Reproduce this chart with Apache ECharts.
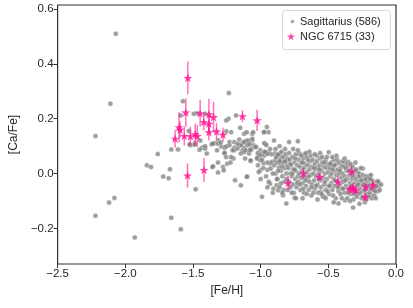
<!DOCTYPE html>
<html><head><meta charset="utf-8">
<script src="https://cdn.jsdelivr.net/npm/echarts@6/dist/echarts.min.js"></script>
<style>html,body{margin:0;padding:0;background:#fff}#c{width:413px;height:308px}</style>
</head><body><div id="c"></div>
<script>
// ---- data ----
const xTicks = [-2.5, -2.0, -1.5, -1.0, -0.5, 0.0];
const yTicks = [-0.2, 0.0, 0.2, 0.4, 0.6];
const sgrName = 'Sagittarius (586)';
const ngcName = 'NGC 6715 (33)';
// Sagittarius field stars: [Fe/H], [Ca/Fe]
const sagittarius = [
[-2.07,0.51],[-2.11,0.255],[-2.22,0.137],[-1.76,0.071],[-1.84,0.030],[-1.81,0.024],[-1.72,-0.011],[-2.08,-0.089],[-2.12,-0.106],[-2.22,-0.154],[-1.93,-0.233],
[-1.66,0.088],[-1.61,0.088],[-1.67,0.016],[-1.68,-0.017],[-1.48,-0.057],[-1.66,-0.161],[-1.59,-0.203],
[-1.574,0.264],[-1.235,0.294],[-1.591,0.212],[-1.494,0.218],[-1.470,0.220],[-1.410,0.218],[-1.182,0.212],[-1.151,0.167],
[-1.531,0.155],[-1.519,0.103],[-1.487,0.111],[-1.446,0.121],[-1.434,0.094],[-1.410,0.091],[-1.362,0.107],[-1.343,0.111],[-1.314,0.121],
[-1.290,0.099],[-1.266,0.094],[-1.230,0.115],[-1.194,0.094],[-1.237,0.200],[-1.254,0.194],[-1.158,0.124],[-1.134,0.111],[-1.110,0.119],
[-1.086,0.107],[-1.062,0.145],[-1.054,0.103],[-1.074,0.091],[-1.122,0.094],[-1.254,0.154],[-1.218,0.151],
[-1.488,0.105],[-1.452,0.087],[-1.411,0.100],[-1.398,0.073],[-1.355,0.109],[-1.322,0.085],[-1.315,0.109],[-1.295,0.113],[-1.266,0.075],
[-1.351,0.027],[-1.315,0.040],[-1.315,0.004],[-1.278,0.024],[-1.273,0.012],[-1.247,0.036],[-1.223,0.040],[-1.201,0.055],[-1.189,-0.024],
[-1.146,-0.043],[-1.115,0.055],[-1.098,-0.011],[-1.254,0.099],[-1.194,0.085],[-1.158,0.103],[-1.134,0.085],
[-1.526,0.107],[-1.356,0.024],[-1.267,0.075],[-1.255,0.060],[-1.219,0.060],[-1.207,0.085],[-1.231,0.103],[-1.074,0.046],
[-1.171,0.091],[-1.146,0.103],[-1.122,0.115],[-1.098,0.103],[-1.062,0.121],[-1.195,0.115],[-1.171,0.109],[-1.146,0.073],[-1.122,0.079],[-1.086,0.073],[-1.069,0.088],
[-1.122,0.145],[-1.103,0.151],[-1.086,0.109],[-1.110,0.085],[-1.079,0.085],[-1.074,0.048],[-1.093,0.121],[-1.062,0.127],[-1.055,0.151],
[-1.031,0.097],[-1.014,0.067],[-1.002,0.085],[-0.990,0.073],[-0.973,0.066],[-0.954,0.073],[-0.942,0.079],[-0.978,0.151],[-0.954,0.170],
[-0.966,0.109],[-1.026,0.054],[-1.002,0.012],[-1.014,0.006],[-0.949,0.014],[-0.930,0.036],[-0.918,0.042],[-0.901,0.121],[-0.894,0.073],
[-0.882,0.060],[-0.870,0.066],[-0.858,0.073],[-0.930,-0.037],[-0.906,-0.055],[-0.882,-0.043],[-0.870,-0.061],[-1.103,-0.012],[-0.990,-0.085],
[-1.038,0.097],[-1.021,0.075],[-1.007,0.066],[-0.963,0.078],[-0.949,0.072],[-0.973,0.111],[-0.958,0.104],[-0.942,0.151],[-0.973,0.152],
[-1.026,0.057],[-1.002,0.048],[-0.978,0.038],[-0.925,0.018],[-0.894,0.048],[-0.877,0.066],[-0.845,0.060],[-0.858,0.034],[-0.829,0.042],[-0.805,0.048],
[-0.790,0.115],[-0.725,0.118],[-0.713,0.073],[-0.677,0.070],[-0.834,-0.079],[-0.810,-0.109],[-0.749,-0.088],[-0.497,0.078],[-0.353,0.042],
[-0.245,0.018],[-0.197,-0.010],[-0.136,-0.027],[-0.425,-0.109],[-0.377,-0.097],[-0.317,-0.124],[-0.184,-0.079],[-0.172,-0.055],[-0.557,-0.067],[-0.533,-0.083],
[-0.89,0.00],[-0.885,0.06],[-0.88,0.04],[-0.875,-0.02],[-0.87,0.07],[-0.865,0.02],[-0.86,-0.05],[-0.855,0.05],[-0.85,0.01],[-0.845,0.08],
[-0.84,-0.01],[-0.835,0.04],[-0.83,0.06],[-0.825,-0.03],[-0.82,0.02],[-0.815,0.07],[-0.81,0.00],[-0.805,0.03],[-0.80,-0.06],[-0.80,0.055],
[-0.795,0.02],[-0.79,-0.03],[-0.785,0.05],[-0.78,0.00],[-0.78,-0.05],[-0.775,0.03],[-0.77,-0.01],[-0.765,0.06],[-0.76,0.015],[-0.76,-0.04],
[-0.755,-0.07],[-0.75,0.04],[-0.745,-0.02],[-0.74,0.01],[-0.74,0.07],[-0.735,-0.05],[-0.73,0.03],[-0.725,-0.01],[-0.72,0.05],[-0.72,-0.03],
[-0.715,0.00],[-0.71,0.025],[-0.705,-0.06],[-0.70,0.04],[-0.70,-0.015],
[-0.695,0.01],[-0.69,-0.035],[-0.685,0.055],[-0.68,0.02],[-0.68,-0.07],[-0.675,-0.01],[-0.67,0.035],[-0.665,-0.045],[-0.66,0.005],[-0.66,0.06],
[-0.655,-0.02],[-0.65,0.03],[-0.645,-0.06],[-0.64,0.015],[-0.64,-0.03],[-0.635,0.045],[-0.63,-0.005],[-0.625,-0.08],[-0.62,0.025],[-0.62,-0.04],
[-0.615,0.05],[-0.61,0.00],[-0.605,-0.025],[-0.60,0.035],[-0.60,-0.055],
[-0.595,0.015],[-0.59,-0.01],[-0.585,0.045],[-0.58,-0.04],[-0.58,0.02],[-0.575,-0.07],[-0.57,0.00],[-0.565,0.03],[-0.56,-0.025],[-0.56,0.055],
[-0.555,-0.05],[-0.55,0.01],[-0.545,0.04],[-0.54,-0.015],[-0.54,-0.085],[-0.535,0.025],[-0.53,-0.04],[-0.525,0.00],[-0.52,0.05],[-0.52,-0.06],
[-0.515,0.02],[-0.51,-0.02],[-0.505,0.035],[-0.50,-0.045],[-0.50,0.005],
[-0.495,-0.075],[-0.49,0.02],[-0.485,-0.01],[-0.48,0.04],[-0.48,-0.035],[-0.475,0.00],[-0.47,-0.06],[-0.465,0.025],[-0.46,-0.02],[-0.46,0.05],
[-0.455,-0.045],[-0.45,0.01],[-0.445,-0.09],[-0.44,-0.005],[-0.44,0.035],[-0.435,-0.03],[-0.43,0.015],[-0.425,-0.065],[-0.42,0.00],[-0.42,0.04],
[-0.415,-0.04],[-0.41,0.02],[-0.405,-0.015],[-0.40,-0.055],[-0.40,0.03],
[-0.395,0.00],[-0.39,-0.03],[-0.385,0.025],[-0.38,-0.07],[-0.38,-0.01],[-0.375,0.04],[-0.37,-0.045],[-0.365,0.01],[-0.36,-0.02],[-0.36,-0.09],
[-0.355,0.03],[-0.35,-0.055],[-0.345,-0.005],[-0.34,0.015],[-0.34,-0.035],[-0.335,-0.075],[-0.33,0.00],[-0.325,-0.02],[-0.32,0.025],[-0.32,-0.05],
[-0.315,-0.095],[-0.31,-0.01],[-0.305,-0.035],[-0.30,0.01],[-0.30,-0.065],
[-0.295,-0.02],[-0.29,-0.045],[-0.285,0.005],[-0.28,-0.075],[-0.275,-0.03],[-0.27,0.00],[-0.265,-0.055],[-0.26,-0.015],[-0.255,-0.09],[-0.25,-0.04],
[-0.245,-0.005],[-0.24,-0.065],[-0.235,-0.025],[-0.23,-0.105],[-0.225,-0.045],[-0.22,-0.01],[-0.215,-0.075],[-0.21,-0.03],[-0.205,-0.055],[-0.20,-0.015],
[-0.195,-0.07],[-0.19,-0.04],[-0.185,-0.005],[-0.18,-0.09],[-0.175,-0.025],[-0.17,-0.06],[-0.165,-0.035],[-0.16,-0.08],[-0.15,-0.05],[-0.14,-0.03],
[-0.135,-0.065],[-0.125,-0.045],
[-0.98,0.02],[-0.96,-0.01],[-0.95,0.04],[-0.94,-0.03],[-0.92,0.07],[-0.91,0.00],[-0.90,0.03],[-0.88,-0.02],[-0.87,0.01],[-0.86,0.045],
[-0.85,-0.035],[-0.84,0.025],[-0.83,-0.06],[-0.82,0.045],[-0.81,-0.02],[-0.79,0.075],[-0.78,0.035],[-0.77,-0.07],[-0.765,0.00],[-0.75,0.015],
[-0.745,0.055],[-0.73,-0.035],[-0.725,0.085],[-0.71,-0.04],[-0.70,0.065],[-0.69,0.04],[-0.685,-0.055],[-0.67,-0.025],[-0.665,0.075],[-0.65,0.05],
[-0.645,-0.01],[-0.63,0.065],[-0.625,-0.05],[-0.61,-0.07],[-0.605,0.02],[-0.59,-0.045],[-0.585,0.065],[-0.57,-0.02],[-0.565,0.015],[-0.55,-0.075],
[-0.545,0.06],[-0.53,0.04],[-0.525,-0.03],[-0.51,0.06],[-0.505,-0.065],[-0.49,-0.045],[-0.485,0.035],[-0.47,0.015],[-0.465,-0.08],[-0.455,0.03],
[-0.45,-0.025],[-0.435,0.05],[-0.43,-0.05],[-0.415,0.01],[-0.41,-0.075],[-0.395,0.045],[-0.39,-0.055],[-0.375,-0.025],[-0.37,0.02],[-0.355,-0.07],
[-0.35,0.01],[-0.335,0.035],[-0.33,-0.045],[-0.315,0.005],[-0.31,-0.075],[-0.295,0.015],[-0.29,-0.085],[-0.28,-0.04],[-0.275,-0.01],[-0.265,-0.07],
[-0.255,-0.025],[-0.245,-0.085],[-0.24,-0.04],[-0.23,-0.06],[-0.225,-0.02],[-0.21,-0.045],[-0.205,-0.085],[-0.19,-0.02],[-0.185,-0.055],[-0.17,-0.04],
[-0.155,-0.065],[-0.145,-0.045],[-0.13,-0.03],[-0.12,-0.06],[-1.02,0.03],[-1.00,-0.02],[-0.99,0.05],[-0.97,0.08],[-0.95,-0.05],[-0.93,0.09],
[-0.91,-0.07],[-0.89,0.09],[-0.86,0.10],[-0.84,-0.07],[-0.82,0.09],[-0.76,0.09],[-0.74,-0.09],[-0.69,-0.09],[-0.66,-0.075],[-0.64,0.08],
[-0.60,0.07],[-0.58,-0.095],[-0.56,0.075],[-0.52,-0.09],[-0.47,0.06],[-0.46,-0.105],[-0.44,0.065],[-0.40,-0.09],[-0.38,0.055],[-0.34,-0.10],
[-0.30,0.04],[-0.27,-0.11],[-0.26,0.02],[-0.22,-0.095],[-0.15,-0.09],[-0.11,-0.04]
];
// NGC 6715 (M54) stars: [Fe/H], [Ca/Fe], error in [Ca/Fe]
const ngcFeH = [-1.538,-1.553,-1.447,-1.382,-1.348,-1.420,-1.382,-1.603,-1.326,-1.382,-1.278,-1.564,-1.519,-1.483,-1.468,-1.632,-1.134,-1.026,-1.540,-1.418,-0.684,-0.797,-0.564,-0.328,-0.429,-0.341,-0.316,-0.297,-0.225,-0.172,-0.227,-1.595,-0.320];
const ngcCaFe = [0.349,0.223,0.220,0.216,0.206,0.188,0.182,0.169,0.154,0.151,0.142,0.137,0.136,0.143,0.137,0.127,0.209,0.194,-0.007,0.013,0.000,-0.034,-0.012,0.008,-0.030,-0.057,-0.057,-0.061,-0.049,-0.043,-0.085,0.160,-0.050];
const ngcErr = [0.060,0.052,0.048,0.057,0.055,0.030,0.030,0.055,0.030,0.030,0.025,0.035,0.035,0.040,0.040,0.033,0.022,0.039,0.044,0.044,0.020,0.025,0.012,0.022,0.022,0.015,0.015,0.015,0.015,0.020,0.015,0.030,0.015];

// ---- chart ----
const ink = '#262626';
const font = 'Liberation Sans, Arial, sans-serif';
const fmt = v => (v < 0 ? '\u2212' : '') + Math.abs(v).toFixed(1);
const starPath = 'path://M0,-10 L2.35,-3.24 L9.51,-3.09 L3.8,1.24 L5.88,8.09 L0,4 L-5.88,8.09 L-3.8,1.24 L-9.51,-3.09 L-2.35,-3.24 Z';
const ngcPoints = ngcFeH.map((x, i) => [x, ngcCaFe[i]]);
const ngcBars = ngcFeH.map((x, i) => [x, ngcCaFe[i] - ngcErr[i], ngcCaFe[i] + ngcErr[i]]);

const chart = echarts.init(document.getElementById('c'), null, {renderer: 'canvas'});
chart.setOption({
  animation: false,
  backgroundColor: '#fff',
  textStyle: {fontFamily: font},
  grid: {left: 49, top: 5, width: 347, height: 259, show: true, borderColor: '#333', borderWidth: 1.2, backgroundColor: 'transparent'},
  xAxis: {
    type: 'value', min: -2.5, max: 0, interval: 0.5,
    name: '[Fe/H]', nameLocation: 'middle', nameGap: 20,
    nameTextStyle: {color: ink, fontSize: 12, fontFamily: font},
    axisLine: {show: false, onZero: false}, splitLine: {show: false},
    axisTick: {show: true, length: 4, lineStyle: {color: '#333', width: 1}, customValues: xTicks},
    axisLabel: {color: ink, fontSize: 11.5, fontFamily: font, margin: 4, formatter: fmt, customValues: xTicks}
  },
  yAxis: {
    type: 'value', min: -0.33, max: 0.615,
    name: '[Ca/Fe]', nameLocation: 'middle', nameGap: 37, nameRotate: 90,
    nameTextStyle: {color: ink, fontSize: 12, fontFamily: font},
    axisLine: {show: false, onZero: false}, splitLine: {show: false},
    axisTick: {show: true, length: 4, lineStyle: {color: '#333', width: 1}, customValues: yTicks},
    axisLabel: {color: ink, fontSize: 11.5, fontFamily: font, margin: 4, formatter: fmt, customValues: yTicks}
  },
  legend: [
    {data: [sgrName], left: 289, top: 16, itemWidth: 5, itemHeight: 5, itemGap: 0, padding: 0,
     textStyle: {color: ink, fontSize: 11, fontFamily: font}},
    {data: [ngcName], left: 287, top: 31, itemWidth: 8, itemHeight: 8, itemGap: 0, padding: 0,
     textStyle: {color: ink, fontSize: 11, fontFamily: font}}
  ],
  graphic: [{type: 'rect', left: 282, top: 10, shape: {width: 108, height: 39, r: 3},
    style: {fill: 'rgba(255,255,255,0.8)', stroke: '#d8d8d8', lineWidth: 1}, z: 0}],
  series: [
    {name: sgrName, type: 'scatter', data: sagittarius, symbol: 'circle', symbolSize: 5, z: 2,
     itemStyle: {color: 'rgba(125,125,125,0.92)', borderColor: '#ffffff', borderWidth: 0.4}},
    {name: ngcName + '_err', type: 'custom', data: ngcBars, z: 3, encode: {x: 0, y: [1, 2]},
     renderItem: (params, api) => {
       const a = api.coord([api.value(0), api.value(1)]);
       const b = api.coord([api.value(0), api.value(2)]);
       return {type: 'line', shape: {x1: a[0], y1: a[1], x2: b[0], y2: b[1]},
               style: {stroke: 'rgba(255,20,147,0.6)', lineWidth: 1.5}};
     }},
    {name: ngcName, type: 'scatter', data: ngcPoints, symbol: starPath, symbolKeepAspect: true, symbolSize: 9, z: 4,
     itemStyle: {color: '#ff1493'}}
  ]
});
</script></body></html>
